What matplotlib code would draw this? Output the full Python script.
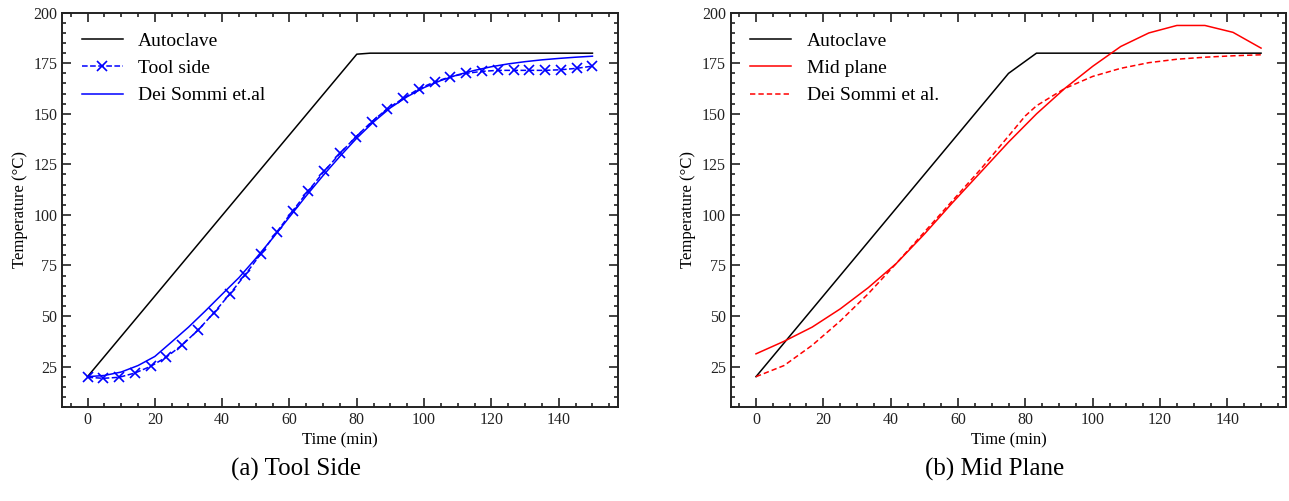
import numpy as np
import matplotlib
matplotlib.use('Agg')
import matplotlib.pyplot as plt
from matplotlib.ticker import MultipleLocator

plt.rcParams['font.family'] = ['Liberation Serif', 'DejaVu Serif']
plt.rcParams['mathtext.fontset'] = 'stix'

# (a) tool side
auto_a_t = [0, 80, 84, 150]
auto_a_T = [20, 179.5, 180, 180]

tool_t = [0, 4.69, 9.38, 14.06, 18.75, 23.44, 28.13, 32.81, 37.5, 42.19, 46.88,
          51.56, 56.25, 60.94, 65.63, 70.31, 75, 79.69, 84.38, 89.06, 93.75,
          98.44, 103.13, 107.81, 112.5, 117.19, 121.88, 126.56, 131.25, 135.94,
          140.63, 145.31, 150]
tool_T = [19.7, 19.2, 19.7, 21.8, 25.1, 29.7, 35.7, 43, 51.5, 60.7, 70.5,
          80.9, 91.6, 102, 112, 121.6, 130.4, 138.6, 146, 152.5, 157.6,
          162.4, 165.8, 168.3, 170, 171, 171.5, 171.5, 171.5, 171.5,
          171.8, 172.5, 173.6]

dei_a_t = [0, 5, 10, 15, 20, 25, 30, 35, 40, 45, 50, 55, 60, 65, 70, 75, 80,
           85, 90, 95, 100, 105, 110, 115, 120, 125, 130, 135, 140, 145, 150]
dei_a_T = [20, 20.6, 22.3, 25.5, 30, 37.2, 44.5, 52.5, 60.8, 69, 78.5, 88.5,
           99, 109.5, 119.5, 129, 138, 146, 153, 158.5, 163, 166.5, 169.3,
           171.5, 173.3, 174.7, 175.8, 176.7, 177.4, 178, 178.5]

# (b) mid plane
auto_b_t = [0, 75, 83.3, 150]
auto_b_T = [20, 170, 180, 180]

mid_t = [0, 8.33, 16.67, 25, 33.33, 41.67, 50, 58.33, 66.67, 75, 83.33,
         91.67, 100, 108.33, 116.67, 125, 133.33, 141.67, 150]
mid_T = [31.3, 37.5, 44.5, 53.5, 64, 76, 90.5, 106, 121, 136, 150,
         162.5, 173.5, 183.3, 190, 193.7, 193.7, 190.3, 182.5]

dei_b_t = [0, 8.33, 16.67, 25, 33.33, 41.67, 50, 58.33, 66.67, 75, 80, 83.33,
           91.67, 100, 108.33, 116.67, 125, 133.33, 141.67, 150]
dei_b_T = [20, 25.5, 35.5, 47.5, 61, 76, 91.5, 107, 122.5, 139, 149, 154,
           162.5, 168.5, 172.5, 175.3, 177, 178, 178.7, 179.2]


def style_axes(ax):
    ax.set_xlim(-7.5, 157.5)
    ax.set_ylim(5, 200)
    ax.xaxis.set_major_locator(MultipleLocator(20))
    ax.xaxis.set_minor_locator(MultipleLocator(5))
    ax.yaxis.set_major_locator(MultipleLocator(25))
    ax.yaxis.set_minor_locator(MultipleLocator(5))
    ax.set_yticks([25, 50, 75, 100, 125, 150, 175, 200])
    ax.tick_params(which='both', direction='in', top=True, right=True,
                   labelsize=11.5, width=1.2, colors='#222222')
    ax.tick_params(which='major', length=6.5)
    ax.tick_params(which='minor', length=3.2)
    for s in ax.spines.values():
        s.set_linewidth(1.4)
        s.set_color('#222222')
    ax.set_xlabel('Time (min)', fontsize=12, labelpad=3)
    ax.set_ylabel('Temperature (°C)', fontsize=12)


fig = plt.figure(figsize=(12.89, 5.01), dpi=100)
ax1 = fig.add_axes([0.0483, 0.1876, 0.4309, 0.787])
ax2 = fig.add_axes([0.5669, 0.1876, 0.4310, 0.787])

ax1.plot(auto_a_t, auto_a_T, color='black', lw=1.1, label='Autoclave')
ax1.plot(tool_t, tool_T, color='blue', lw=1.1, ls='--', marker='x',
         markersize=7, markeredgewidth=1.2, label='Tool side')
ax1.plot(dei_a_t, dei_a_T, color='blue', lw=1.1, label='Dei Sommi et.al')
style_axes(ax1)

ax2.plot(auto_b_t, auto_b_T, color='black', lw=1.1, label='Autoclave')
ax2.plot(mid_t, mid_T, color='red', lw=1.1, label='Mid plane')
ax2.plot(dei_b_t, dei_b_T, color='red', lw=1.1, ls=(0, (3.5, 2)), label='Dei Sommi et al.')
style_axes(ax2)

for ax in (ax1, ax2):
    ax.legend(loc='upper left', frameon=False, fontsize=14, handlelength=2.1,
              handletextpad=0.8, labelspacing=0.5, borderaxespad=0.6)

fig.text(0.2296, 0.062, '(a) Tool Side', fontsize=18, ha='center', va='center')
fig.text(0.772, 0.062, '(b) Mid Plane', fontsize=18, ha='center', va='center')

fig.savefig('out.png', dpi=100)
